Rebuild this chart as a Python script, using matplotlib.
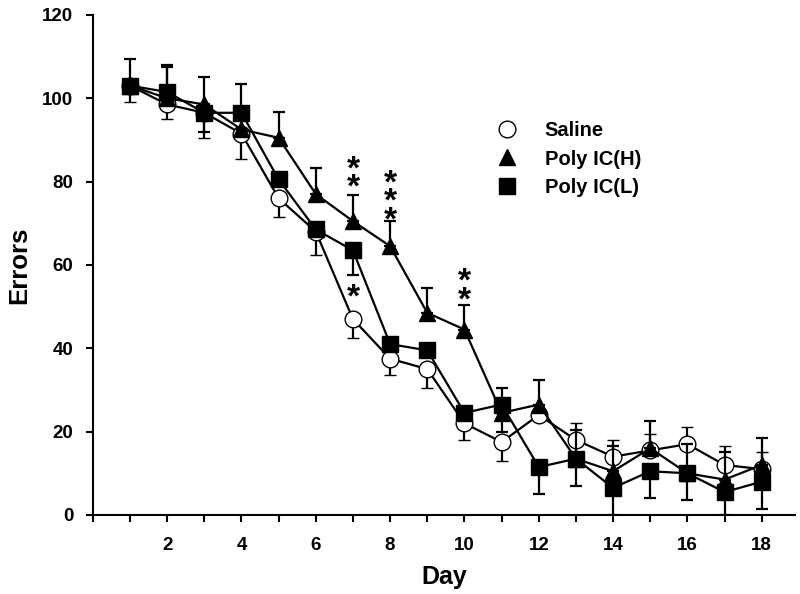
import numpy as np
import matplotlib
matplotlib.use("Agg")
import matplotlib.pyplot as plt
from matplotlib.lines import Line2D

plt.rcParams['font.family'] = ['Liberation Sans', 'DejaVu Sans']
plt.rcParams['font.weight'] = 'bold'

days = list(range(1, 19))

# mean errors per group
saline = [103, 98.5, 96.5, 91.5, 76, 68, 47, 37.5, 35, 22, 17.5, 24, 18, 14, 15.5, 17, 12, 11]
poly_h = [103, 100, 98.5, 92.5, 90.5, 77, 70.5, 64.5, 48.5, 44.5, 24.5, 26.5, 13.5, 10.5, 16, 10, 8.5, 12]
poly_l = [103, 101.5, 96.5, 96.5, 80.5, 68.5, 63.5, 41, 39.5, 24.5, 26.5, 11.5, 13.5, 6.5, 10.5, 10, 5.5, 8]

# error bars (lower, upper) as they show in the figure
saline_lo = [4, 3.5, 6, 6, 4.5, 5.5, 4.5, 4, 4.5, 4, 4.5, 0, 0, 0, 0, 0, 0, 0]
saline_up = [0, 0, 0, 0, 0, 0, 0, 0, 0, 0, 0, 0, 4, 4, 4, 4, 4.5, 4]
poly_h_lo = [0, 0, 0, 0, 0, 0, 0, 0, 0, 0, 4.5, 0, 0, 0, 0, 0, 0, 0]
poly_h_up = [6.5, 7.5, 6.5, 0, 6.3, 6.3, 6.2, 6, 6, 6, 0, 6, 7, 6, 6.5, 7, 6.5, 6.5]
poly_l_lo = [0, 0, 4.5, 0, 0, 0, 6, 0, 0, 0, 0, 6.5, 6.5, 6.5, 6.5, 6.5, 5.5, 6.5]
poly_l_up = [0, 6.5, 0, 7, 0, 0, 0, 0, 0, 0, 4, 0, 0, 0, 0, 0, 0, 0]

# significance marks
star_days = [7, 8, 10, 7]
star_text = ['*\n*', '*\n*\n*', '*\n*', '*']
star_y = [80.6, 75.0, 53.6, 52.0]

fig = plt.figure(figsize=(8, 5.94), dpi=100)
ax = fig.add_axes([0.116, 0.133, 0.878, 0.842])

kw = dict(color='black', lw=1.6, capsize=4.5, elinewidth=1.6, capthick=1.6)
ax.errorbar(days, saline, yerr=[saline_lo, saline_up], marker='o', ms=12,
            mfc='white', mec='black', mew=1.0, zorder=3, **kw)
ax.errorbar(days, poly_h, yerr=[poly_h_lo, poly_h_up], marker='^', ms=12,
            mfc='black', mec='black', zorder=4, **kw)
ax.errorbar(days, poly_l, yerr=[poly_l_lo, poly_l_up], marker='s', ms=11,
            mfc='black', mec='black', zorder=5, **kw)

for d, t, y in zip(star_days, star_text, star_y):
    ax.text(d, y, t, ha='center', va='center', fontsize=24, linespacing=0.47,
            fontweight='bold')

ax.set_xlim(0, 18.9)
ax.set_ylim(0, 120)
ax.set_xticks(range(0, 19))
ax.set_xticklabels([str(d) if d % 2 == 0 and d > 0 else '' for d in range(0, 19)])
ax.set_yticks(range(0, 121, 20))
ax.tick_params(direction='out', length=5, width=1.5, labelsize=13.5)
ax.tick_params(axis='x', pad=11)
ax.tick_params(axis='y', pad=9)
for s in ['top', 'right']:
    ax.spines[s].set_visible(False)
for s in ['left', 'bottom']:
    ax.spines[s].set_linewidth(1.5)

ax.set_xlabel('Day', fontsize=18, fontweight='bold', labelpad=8)
ax.set_ylabel('Errors', fontsize=18.5, fontweight='bold', labelpad=8)

handles = [Line2D([], [], ls='none', marker='o', ms=12, mfc='white', mec='black'),
           Line2D([], [], ls='none', marker='^', ms=12, mfc='black', mec='black'),
           Line2D([], [], ls='none', marker='s', ms=11, mfc='black', mec='black')]
ax.legend(handles, ['Saline', 'Poly IC(H)', 'Poly IC(L)'], frameon=False,
          loc='upper left', bbox_to_anchor=(0.546, 0.807), fontsize=14.5,
          borderpad=0, handlelength=2, handletextpad=0.9, labelspacing=0.45)

fig.savefig('out.png', dpi=100)
